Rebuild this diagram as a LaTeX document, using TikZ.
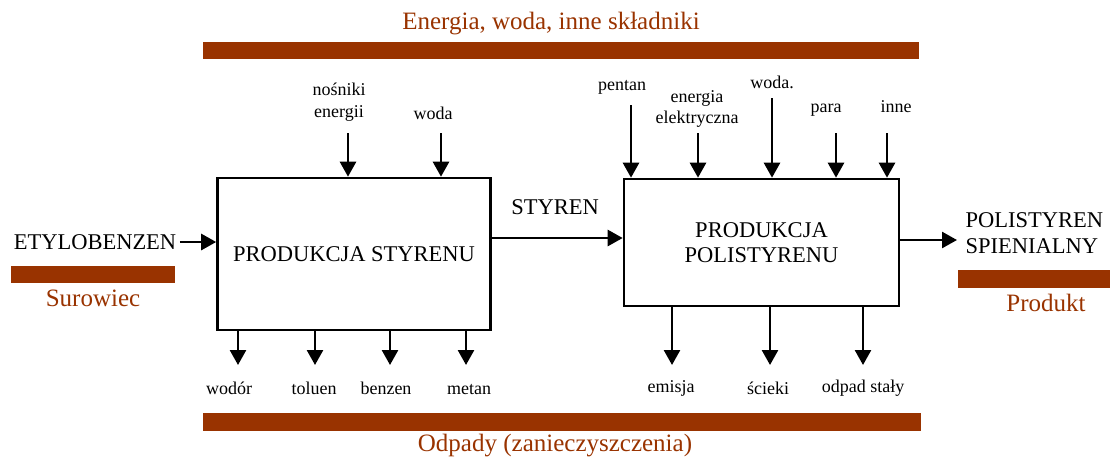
\documentclass[tikz,border=0pt]{standalone}
\usepackage{fontspec}
\setmainfont{Liberation Serif}
\usetikzlibrary{arrows.meta}
\definecolor{rdza}{HTML}{993300}

\begin{document}
\begin{tikzpicture}[x=1pt,y=-1pt,
    proc/.style={draw,line width=2.6pt,inner sep=0pt,align=center,
                 font=\fontsize{22.5}{25}\selectfont},
    flow/.style={line width=2.6pt,-{Triangle[width=16pt,length=15pt]}},
    grupa/.style={text=rdza,font=\fontsize{25}{28}\selectfont},
    duzy/.style={font=\fontsize{22.5}{26}\selectfont,align=left},
    lbl/.style={font=\fontsize{18}{21.5}\selectfont,align=center}]
  \useasboundingbox (0,0) rectangle (1110,459);

  % pasy kategorii
  \fill[rdza] (203,42) rectangle (919,59);
  \node[grupa] (tgora) at (551,24) {Energia, woda, inne składniki};
  \fill[rdza] (11,266) rectangle (175,283);
  \node[grupa] (tsur) at (93,298) {Surowiec};
  \fill[rdza] (958,270) rectangle (1110,288);
  \node[grupa] (tprod) at (1046,303) {Produkt};
  \fill[rdza] (203,413) rectangle (921,431);
  \node[grupa] (todp) at (555,446) {Odpady (zanieczyszczenia)};

  % procesy
  \node[proc,minimum width=273pt,minimum height=152pt] (sty) at (354,254) {PRODUKCJA STYRENU};
  \node[proc,minimum width=275pt,minimum height=127pt] (pst) at (761.5,242.5) {PRODUKCJA\\POLISTYRENU};

  % wejscie / wyjscie
  \node[duzy] (etb) at (95,242) {ETYLOBENZEN};
  \draw[flow] (etb.east) -- (etb.east -| sty.west);
  \node[duzy] (styr) at (555,207) {STYREN};
  \coordinate (s1) at (sty.east |- 0,238);
  \draw[flow] (s1) -- (s1 -| pst.west);
  \node[duzy,anchor=west] (pols) at (962,233) {POLISTYREN\\SPIENIALNY};
  \coordinate (p1) at (pst.east |- 0,240);
  \draw[flow] (p1) -- (957,240);

  % media dla produkcji styrenu
  \foreach \x/\n in {348/nos, 441/wod} {
    \coordinate (\n) at (\x,133);
    \draw[flow] (\n) -- (\n |- sty.north);
  }
  \node[lbl] (lnos) at (339,102) {nośniki\\energii};
  \node[lbl] (lwod) at (433,113) {woda};

  % media dla produkcji polistyrenu
  \foreach \x/\y/\n in {631/105/pen, 698/133/ele, 772/98/wo, 836/133/par, 887/133/inn} {
    \coordinate (\n) at (\x,\y);
    \draw[flow] (\n) -- (\n |- pst.north);
  }
  \node[lbl] (lpen) at (622,87) {pentan};
  \node[lbl] (lele) at (697,109) {energia\\elektryczna};
  \node[lbl] (lwo) at (772,82) {woda.};
  \node[lbl] (lpar) at (826,110) {para};
  \node[lbl] (linn) at (896,107) {inne};

  % odpady
  \foreach \x/\n in {238/o1, 315/o2, 390/o3, 466/o4} {
    \coordinate (\n) at (\x,365);
    \draw[flow] (sty.south -| \n) -- (\n);
  }
  \foreach \x/\n in {672/o5, 770/o6, 863/o7} {
    \coordinate (\n) at (\x,365);
    \draw[flow] (pst.south -| \n) -- (\n);
  }
  \foreach \x/\y/\t [count=\i] in {229/388/wodór, 314/388/toluen, 386/388/benzen, 469/390/metan,
                                    671/388/emisja, 768/388/ścieki, 863/388/odpad stały} {
    \node[lbl] (lo\i) at (\x,\y) {\t};
  }
\end{tikzpicture}
\end{document}
